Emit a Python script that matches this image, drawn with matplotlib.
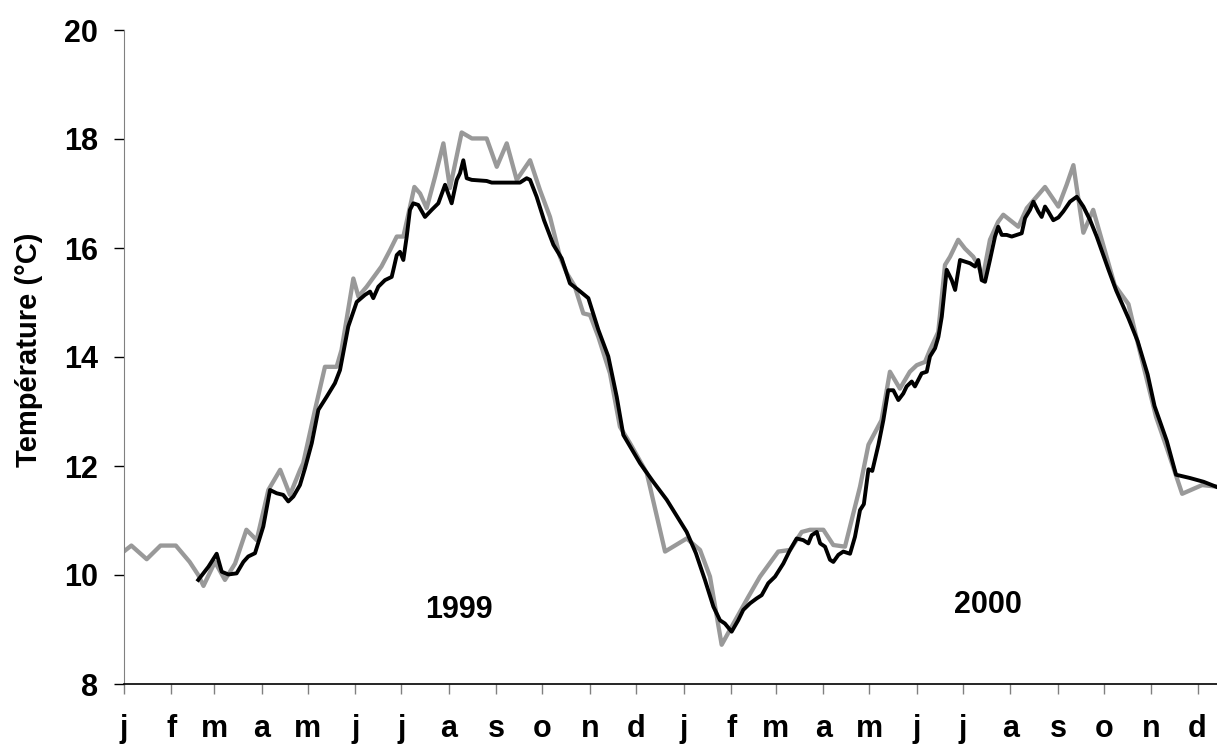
import matplotlib
matplotlib.use("Agg")
import matplotlib.pyplot as plt

plt.rcParams['font.family'] = ['Liberation Sans', 'DejaVu Sans']
plt.rcParams['font.weight'] = 'bold'

# jours depuis le 1er janvier 1999
grey_days = [0, 5, 15, 24, 34, 43, 48.6, 52, 59.5, 66, 72.6, 80, 86.7, 94.3, 102, 108.4, 115,
             117, 124.7, 131.2, 138.8, 142, 149.7, 153, 158.4, 168, 173.6, 178, 182.3, 186.6,
             189.5, 193.2, 197.5, 203, 208.4, 212.7, 220.3, 227, 236.6, 243.2, 249.7, 256.2,
             264.9, 271.4, 277.9, 284.4, 288.8, 294, 299.6, 304, 309.4, 317, 323.5, 330, 341,
             352.9, 367, 375.7, 382.2, 389.8, 396.3, 407.2, 414.8, 426.7, 434.4, 442, 447.4,
             456.1, 462.6, 470.2, 473.5, 480, 485.5, 494, 499.5, 506, 512.5, 517, 522.4, 525.6,
             531, 535.4, 538.7, 544, 548.4, 553.8, 557, 560, 564.7, 570, 573.4, 583.2, 588.7,
             600.6, 609.3, 614.7, 619.1, 625.6, 632, 646, 655, 660.5, 673, 680, 690, 703, 713]
grey_temp = [10.43, 10.54, 10.29, 10.54, 10.54, 10.24, 10.0, 9.8, 10.24, 9.91, 10.21, 10.83, 10.64,
             11.56, 11.93, 11.47, 11.93, 12.05, 13.03, 13.82, 13.82, 14.13, 15.44, 15.11, 15.29,
             15.66, 15.96, 16.21, 16.21, 16.75, 17.12, 17.0, 16.73, 17.31, 17.92, 17.1, 18.12,
             18.01, 18.01, 17.49, 17.92, 17.25, 17.61, 17.06, 16.57, 15.84, 15.54, 15.3, 14.8,
             14.77, 14.37, 13.7, 12.72, 12.42, 11.87, 10.43, 10.67, 10.46, 9.97, 8.72, 9.05,
             9.6, 9.97, 10.43, 10.46, 10.79, 10.83, 10.83, 10.55, 10.52, 10.89, 11.62, 12.39,
             12.84, 13.73, 13.42, 13.73, 13.85, 13.91, 14.13, 14.46, 15.69, 15.84, 16.15, 15.99,
             15.84, 15.69, 15.45, 16.15, 16.48, 16.61, 16.39, 16.73, 17.12, 16.76, 17.16, 17.52,
             16.28, 16.7, 15.32, 14.97, 14.32, 12.9, 12.33, 11.49, 11.65, 11.62]

black_days = [48.6, 55.2, 60.6, 63.9, 68.2, 73.6, 78, 81.2, 85.6, 91, 95.4, 99.7, 104, 107.3,
              110.6, 114.9, 118.2, 122.6, 126.9, 132.3, 137.7, 141, 146.4, 151.9, 157.3, 160.6,
              162.7, 166, 170.3, 174.7, 175.8, 178, 180.1, 182.3, 184.5, 186.6, 188.8, 192,
              196.4, 200.8, 205.1, 209.5, 213.8, 217.1, 219.2, 221.4, 223.6, 226.9, 236.6, 239.9,
              251.8, 258.3, 262.7, 264.9, 269.2, 274, 280.1, 285.5, 290.9, 296.4, 302.9, 309.4,
              315.9, 321.4, 325.7, 336.6, 345.2, 354, 367, 373, 378.9, 384.4, 388.7, 391.9,
              396.3, 400.6, 403.9, 408.3, 412.6, 415.9, 420.2, 424.6, 430, 434.4, 438.7, 443,
              446.3, 448.5, 451.8, 454, 457.2, 460.4, 462.6, 465.9, 469.1, 473.5, 476.7, 480,
              482.5, 485.5, 488, 492, 495.2, 498.4, 501.7, 505, 508.2, 510.4, 513.7, 515.8, 518,
              520.2, 523.5, 525.6, 528.9, 531.1, 533.3, 536.5, 539.8, 542, 545.2, 548.4, 551.7,
              555, 557.1, 559.3, 561.5, 564.7, 568, 570.1, 572.4, 575.6, 578.9, 582.1, 585.4,
              587.6, 590.8, 593, 596.2, 598.4, 600.6, 602.7, 606, 609.3, 612.5, 616.9, 621.3,
              625.6, 630, 634.3, 638.6, 642, 647, 655, 661, 667.5, 672, 680, 686, 695, 704, 713]
black_temp = [9.91, 10.15, 10.39, 10.06, 10.01, 10.03, 10.24, 10.34, 10.4, 10.89, 11.56, 11.5,
              11.47, 11.35, 11.44, 11.65, 11.96, 12.42, 13.03, 13.27, 13.52, 13.76, 14.56, 15.01,
              15.14, 15.2, 15.08, 15.29, 15.41, 15.47, 15.6, 15.87, 15.93, 15.78, 16.21, 16.7,
              16.82, 16.79, 16.57, 16.7, 16.82, 17.16, 16.82, 17.25, 17.37, 17.61, 17.28, 17.25,
              17.23, 17.2, 17.2, 17.2, 17.28, 17.25, 16.94, 16.51, 16.06, 15.81, 15.35, 15.23,
              15.08, 14.5, 14.01, 13.27, 12.57, 12.05, 11.71, 11.38, 10.79, 10.4, 9.91, 9.42,
              9.17, 9.11, 8.96, 9.17, 9.36, 9.48, 9.57, 9.63, 9.85, 9.97, 10.21, 10.46, 10.67,
              10.64, 10.58, 10.73, 10.79, 10.58, 10.52, 10.28, 10.24, 10.37, 10.43, 10.39, 10.7,
              11.19, 11.3, 11.94, 11.91, 12.39, 12.84, 13.39, 13.39, 13.21, 13.33, 13.46, 13.55,
              13.46, 13.58, 13.7, 13.73, 14.01, 14.16, 14.37, 14.74, 15.6, 15.41, 15.23, 15.78,
              15.75, 15.72, 15.66, 15.78, 15.41, 15.38, 15.78, 16.21, 16.39, 16.24, 16.24, 16.21,
              16.24, 16.27, 16.55, 16.7, 16.85, 16.67, 16.57, 16.76, 16.67, 16.51, 16.56, 16.67,
              16.85, 16.94, 16.76, 16.51, 16.21, 15.87, 15.6, 15.22, 14.71, 14.29, 13.68, 13.1,
              12.46, 11.84, 11.78, 11.71, 11.61]

month_starts = [0, 31, 59, 90, 120, 151, 181, 212, 243, 273, 304, 334,
                365, 396, 425, 456, 486, 517, 547, 578, 609, 639, 670, 700]
month_labels = ['j', 'f', 'm', 'a', 'm', 'j', 'j', 'a', 's', 'o', 'n', 'd'] * 2

fig = plt.figure(figsize=(12.17, 7.49), dpi=100)
ax = fig.add_axes([123.7/1217, 65/749, 1 - 123.7/1217, 654/749])

ax.plot(grey_days, grey_temp, color='#999999', lw=3.1)
ax.plot(black_days, black_temp, color='black', lw=2.8)

ax.set_xlim(0, (1217 - 123.7) / 1.534)
ax.set_ylim(8, 20)
ax.set_yticks([8, 10, 12, 14, 16, 18, 20])
ax.set_xticks(month_starts)
ax.set_xticklabels(month_labels)

ax.spines['top'].set_visible(False)
ax.spines['right'].set_visible(False)
ax.spines['left'].set_color('#808080')
ax.spines['bottom'].set_color('black')
ax.spines['bottom'].set_linewidth(1.2)
ax.tick_params(axis='y', direction='out', length=7.5, width=1, color='black',
               labelsize=22, pad=11)
ax.tick_params(axis='x', direction='out', length=7.5, width=1, color='#808080',
               labelsize=22, pad=14)

ax.set_ylabel('Température (°C)', fontsize=21, fontweight='bold')
ax.yaxis.set_label_coords((43 - 123.7) / (1217 - 123.7), (684 - 350) / 654)

ax.text(218.6, 9.36, '1999', fontsize=22, fontweight='bold', ha='center', va='center')
ax.text(563.4, 9.45, '2000', fontsize=22, fontweight='bold', ha='center', va='center')

fig.savefig('out.png', dpi=100)
